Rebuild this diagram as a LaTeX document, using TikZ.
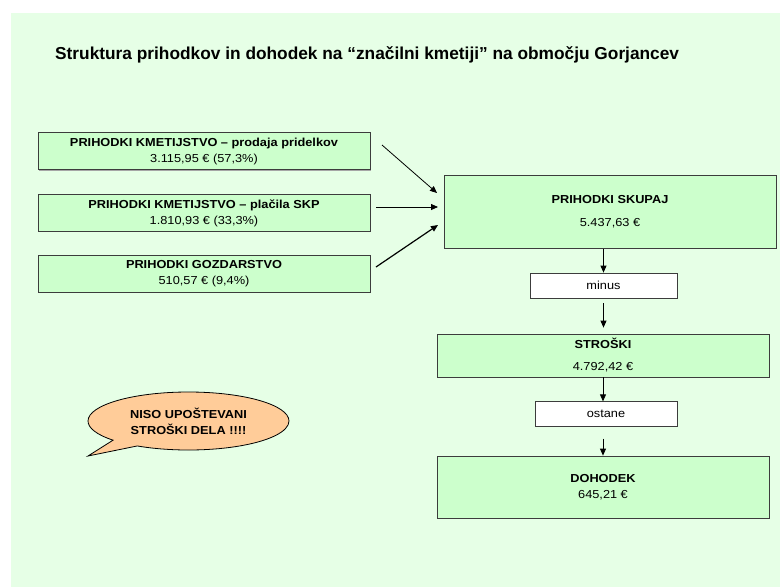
\documentclass[tikz,border=0pt]{standalone}
\usepackage{fontspec}
\setmainfont{Liberation Sans}
\newfontfamily\boxfont[FakeStretch=1.1]{Liberation Sans}
\usetikzlibrary{arrows.meta, shapes.callouts, shadows}

\definecolor{bggreen}{RGB}{230,255,230}
\definecolor{boxgreen}{RGB}{204,255,204}
\definecolor{peach}{RGB}{255,204,153}
\definecolor{edgegray}{RGB}{60,60,60}

\tikzset{
    greenbox/.style={draw=edgegray, fill=boxgreen, line width=0.8pt, inner sep=0pt, align=center,
        drop shadow={shadow xshift=0.8pt, shadow yshift=-0.8pt, fill=black!35, opacity=1},
        font=\boxfont\fontsize{11.6}{16}\selectfont},
    inbox/.style={greenbox, minimum width=332pt, minimum height=37pt},
    bigbox/.style={greenbox, minimum width=332pt},
    opbox/.style={draw=edgegray, fill=white, line width=0.8pt, inner sep=0pt,
        minimum height=25pt, font=\boxfont\fontsize{11.6}{16}\selectfont},
    arr/.style={-{Triangle[length=7pt,width=6pt]}, line width=0.8pt}
}

\begin{document}
\begin{tikzpicture}[x=1pt, y=-1pt]

% Frame and background of the slide
\useasboundingbox (0,0) rectangle (780,587);
\fill[bggreen] (11,13) rectangle (780,587);

% Title
\node[anchor=base west, inner sep=0pt, font=\bfseries\fontsize{17.3}{20}\selectfont] (title) at (55,59.5)
    {Struktura prihodkov in dohodek na “značilni kmetiji” na območju Gorjancev};

% Income sources (left column)
\node[inbox] (prodaja) at (204,151.25) {\textbf{PRIHODKI KMETIJSTVO – prodaja pridelkov}\\3.115,95 € (57,3\%)};
\node[inbox] (placila) at (204,213)    {\textbf{PRIHODKI KMETIJSTVO – plačila SKP}\\1.810,93 € (33,3\%)};
\node[inbox] (gozd)    at (204,273.5)  {\textbf{PRIHODKI GOZDARSTVO}\\510,57 € (9,4\%)};

% Right column: total, costs, income
\node[bigbox, minimum height=72.5pt] (skupaj) at (610,212) {\textbf{PRIHODKI SKUPAJ}\\[7pt]5.437,63 €};
\node[opbox, minimum width=147pt] (minus) at (603.5,285.5) {minus};
\node[bigbox, minimum height=43pt] (stroski) at (603,355.5) {\textbf{STROŠKI}\\[6pt]4.792,42 €};
\node[opbox, minimum width=142pt, minimum height=24.5pt] (ostane) at (606,414) {ostane};
\node[bigbox, minimum height=62pt] (dohodek) at (603,487) {\textbf{DOHODEK}\\645,21 €};

% Ends of the incoming arrows
\coordinate (in1) at (382,145);  \coordinate (to1) at (437,193);
\coordinate (in2) at (376,207);  \coordinate (to2) at (438,207);
\coordinate (in3) at (376,267);  \coordinate (to3) at (438,225);

\draw[arr] (in1) -- (to1);
\draw[arr] (in2) -- (to2);
\draw[arr, line width=1.2pt] (in3) -- (to3);

% Flow downwards
\draw[arr] (minus.north |- skupaj.south) -- (minus.north);
\draw[arr, shorten <=5pt, shorten >=6pt] (minus.south) -- (minus.south |- stroski.north);
\draw[arr] (stroski.south) -- (stroski.south |- ostane.north);
\draw[arr, shorten <=12pt] (ostane.south -| dohodek.north) -- (dohodek.north);

% Remark
\node[ellipse callout, draw=black, fill=peach, line width=0.8pt, inner sep=0pt, align=center,
      minimum width=201pt, minimum height=58pt, callout absolute pointer={(88,456)}, callout pointer arc=18,
      font=\boxfont\bfseries\fontsize{11.6}{16}\selectfont] (opomba) at (188.5,421)
    {NISO UPOŠTEVANI\\STROŠKI DELA !!!!};

\end{tikzpicture}
\end{document}
